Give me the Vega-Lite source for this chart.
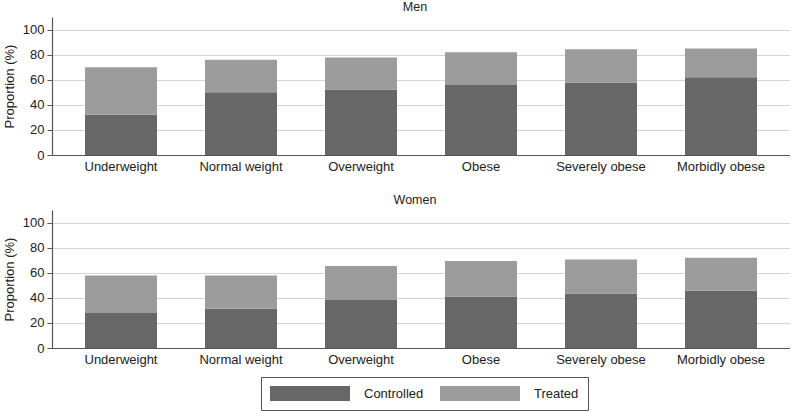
{
  "$schema": "https://vega.github.io/schema/vega-lite/v6.json",
  "padding": {"left": 3, "top": 0, "right": 0, "bottom": 0},
  "background": "white",
  "data": {"values": [
    {"sex": "Men", "bmi": "Underweight", "status": "Controlled", "value": 32},
    {"sex": "Men", "bmi": "Underweight", "status": "Treated", "value": 38},
    {"sex": "Men", "bmi": "Normal weight", "status": "Controlled", "value": 50},
    {"sex": "Men", "bmi": "Normal weight", "status": "Treated", "value": 26},
    {"sex": "Men", "bmi": "Overweight", "status": "Controlled", "value": 52.3},
    {"sex": "Men", "bmi": "Overweight", "status": "Treated", "value": 25.4},
    {"sex": "Men", "bmi": "Obese", "status": "Controlled", "value": 55.7},
    {"sex": "Men", "bmi": "Obese", "status": "Treated", "value": 26.2},
    {"sex": "Men", "bmi": "Severely obese", "status": "Controlled", "value": 57.8},
    {"sex": "Men", "bmi": "Severely obese", "status": "Treated", "value": 26.5},
    {"sex": "Men", "bmi": "Morbidly obese", "status": "Controlled", "value": 62},
    {"sex": "Men", "bmi": "Morbidly obese", "status": "Treated", "value": 22.8},
    {"sex": "Women", "bmi": "Underweight", "status": "Controlled", "value": 27.9},
    {"sex": "Women", "bmi": "Underweight", "status": "Treated", "value": 29.9},
    {"sex": "Women", "bmi": "Normal weight", "status": "Controlled", "value": 31.3},
    {"sex": "Women", "bmi": "Normal weight", "status": "Treated", "value": 26.5},
    {"sex": "Women", "bmi": "Overweight", "status": "Controlled", "value": 38.2},
    {"sex": "Women", "bmi": "Overweight", "status": "Treated", "value": 27.1},
    {"sex": "Women", "bmi": "Obese", "status": "Controlled", "value": 41.1},
    {"sex": "Women", "bmi": "Obese", "status": "Treated", "value": 28.2},
    {"sex": "Women", "bmi": "Severely obese", "status": "Controlled", "value": 43.5},
    {"sex": "Women", "bmi": "Severely obese", "status": "Treated", "value": 27},
    {"sex": "Women", "bmi": "Morbidly obese", "status": "Controlled", "value": 45.6},
    {"sex": "Women", "bmi": "Morbidly obese", "status": "Treated", "value": 26.3}
  ]},
  "spacing": 20,
  "vconcat": [
    {
      "title": {"text": "Men", "anchor": "middle", "frame": "group", "dx": -6},
      "transform": [{"filter": "datum.sex === 'Men'"}],
      "width": 738,
      "height": 138,
      "mark": {"type": "bar"},
      "encoding": {
        "x": {"field": "bmi", "type": "nominal", "sort": ["Underweight", "Normal weight", "Overweight", "Obese", "Severely obese", "Morbidly obese"], "scale": {"paddingInner": 0.4, "paddingOuter": 0.275}, "axis": {"title": null}},
        "y": {"field": "value", "type": "quantitative", "stack": "zero", "scale": {"domain": [0, 110], "nice": false}, "axis": {"title": "Proportion (%)", "values": [0, 20, 40, 60, 80, 100]}},
        "color": {"field": "status", "type": "nominal", "scale": {"domain": ["Controlled", "Treated"], "range": ["#676767", "#9c9c9c"]}, "legend": {"orient": "none", "legendX": 209, "legendY": 360, "direction": "horizontal", "title": null}},
        "order": {"field": "status"}
      }
    },
    {
      "title": {"text": "Women", "anchor": "middle", "frame": "group", "dx": -6},
      "transform": [{"filter": "datum.sex === 'Women'"}],
      "width": 738,
      "height": 138,
      "mark": {"type": "bar"},
      "encoding": {
        "x": {"field": "bmi", "type": "nominal", "sort": ["Underweight", "Normal weight", "Overweight", "Obese", "Severely obese", "Morbidly obese"], "scale": {"paddingInner": 0.4, "paddingOuter": 0.275}, "axis": {"title": null}},
        "y": {"field": "value", "type": "quantitative", "stack": "zero", "scale": {"domain": [0, 110], "nice": false}, "axis": {"title": "Proportion (%)", "values": [0, 20, 40, 60, 80, 100]}},
        "color": {"field": "status", "type": "nominal", "scale": {"domain": ["Controlled", "Treated"], "range": ["#676767", "#9c9c9c"]}, "legend": {"orient": "none", "legendX": 209, "legendY": 360, "direction": "horizontal", "title": null}},
        "order": {"field": "status"}
      }
    }
  ],
  "resolve": {"scale": {"color": "shared"}},
  "config": {
    "font": "Liberation Sans",
    "view": {"stroke": null},
    "title": {"fontSize": 12.5, "fontWeight": "normal", "color": "#222", "offset": 4},
    "axis": {"labelFont": "Liberation Sans", "titleFont": "Liberation Sans", "labelFontSize": 13, "titleFontSize": 13, "titleFontWeight": "normal", "labelColor": "#222", "titleColor": "#222", "domainColor": "#555", "tickColor": "#555"},
    "axisX": {"labelAngle": 0, "ticks": false, "grid": false, "labelPadding": 5, "domainWidth": 1.2},
    "axisY": {"grid": true, "gridColor": "#d4d4d4", "tickSize": 5, "labelPadding": 3, "titlePadding": 6, "domainWidth": 1.2},
    "legend": {"strokeColor": "#555", "padding": 9, "symbolType": "M-1,-1H9.667V1H-1Z", "symbolSize": 225, "symbolStrokeWidth": 0, "symbolOpacity": 1, "labelFontSize": 13, "labelColor": "#222", "labelOffset": 79, "columnPadding": 16, "labelFont": "Liberation Sans"}
  }
}
